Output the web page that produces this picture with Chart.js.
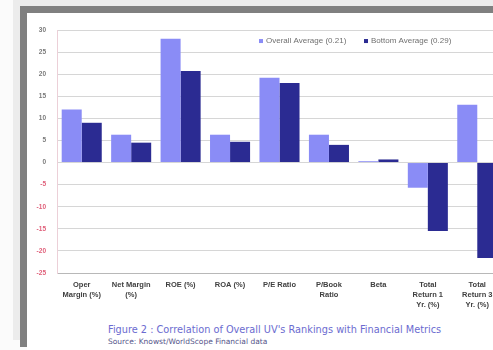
<!DOCTYPE html>
<html>
<head>
<meta charset="utf-8">
<script src="https://cdn.jsdelivr.net/npm/chart.js@4.4.1/dist/chart.umd.min.js"></script>
<style>
  html, body { margin: 0; padding: 0; width: 493px; height: 350px; overflow: hidden; background: #fbfbfb; position: relative; }
  .lg { position: absolute; left: 13px; top: 0; width: 480px; height: 340px; background: #ececec; }
  .dk { position: absolute; left: 20px; top: 6px; width: 473px; height: 341px; background: #808080; }
  .wh { position: absolute; left: 27px; top: 13px; width: 466px; height: 337px; background: #ffffff; }
  #wrap { position: absolute; left: 27px; top: 13px; width: 500px; height: 300px; }
  .cap { position: absolute; left: 108px; font-family: "DejaVu Sans", Verdana, sans-serif; white-space: nowrap; }
  .c1 { top: 324px; color: #6b6bd0; font-size: 9.75px; }
  .c2 { top: 337px; color: #55558a; font-size: 7.5px; }
</style>
</head>
<body>
<div class="lg"></div>
<div class="dk"></div>
<div class="wh"></div>
<div id="wrap"><canvas id="c" width="500" height="300"></canvas></div>
<div class="cap c1">Figure 2 : Correlation of Overall UV's Rankings with Financial Metrics</div>
<div class="cap c2">Source: Knowst/WorldScope Financial data</div>
<script>
const categories = [
  ["Oper", "Margin (%)"],
  ["Net Margin", "(%)"],
  "ROE (%)",
  "ROA (%)",
  "P/E Ratio",
  ["P/Book", "Ratio"],
  "Beta",
  ["Total", "Return 1", "Yr. (%)"],
  ["Total", "Return 3", "Yr. (%)"]
];
const seriesNames = ["Overall Average (0.21)", "Bottom Average (0.29)"];
const overallAvg = [12, 6.3, 28, 6.3, 19.2, 6.3, 0.3, -5.7, 13.1];
const bottomAvg = [9, 4.5, 20.7, 4.7, 18, 4, 0.7, -15.5, -21.6];
const yMin = -25, yMax = 30, yStep = 5;

const lightColor = "#8a8cf6";
const darkColor = "#2b2b92";

const inlineLegend = {
  id: "inlineLegend",
  afterDraw(chart) {
    const ctx = chart.ctx;
    const area = chart.chartArea;
    const y = chart.scales.y.getPixelForValue(27.5);
    const items = chart.data.datasets;
    const starts = [area.left + 202, area.left + 307];
    ctx.save();
    ctx.font = "8px 'Liberation Sans', Arial, sans-serif";
    ctx.textBaseline = "middle";
    items.forEach((ds, i) => {
      const x = starts[i];
      ctx.fillStyle = ds.backgroundColor;
      ctx.fillRect(x, y - 2, 4, 4);
      ctx.fillStyle = "#707070";
      ctx.fillText(ds.label, x + 7, y);
    });
    ctx.restore();
  }
};

new Chart(document.getElementById("c"), {
  type: "bar",
  data: {
    labels: categories,
    datasets: [
      { label: seriesNames[0], data: overallAvg, backgroundColor: lightColor, borderWidth: 0 },
      { label: seriesNames[1], data: bottomAvg, backgroundColor: darkColor, borderWidth: 0 }
    ]
  },
  options: {
    responsive: false,
    animation: false,
    devicePixelRatio: 1,
    layout: { padding: { top: 17, right: 25, bottom: 0, left: 0 } },
    plugins: { legend: { display: false }, tooltip: { enabled: false } },
    datasets: { bar: { categoryPercentage: 0.81, barPercentage: 1.0 } },
    scales: {
      x: {
        grid: { display: false, drawTicks: false },
        border: { display: true, color: "#b8b8b8", dash: [1, 2] },
        ticks: {
          autoSkip: false, maxRotation: 0, minRotation: 0, padding: 7,
          color: "#404040",
          font: { family: "'Liberation Sans', Arial, sans-serif", size: 7.5, weight: "bold", lineHeight: 1.33 }
        },
        afterFit(s) { s.height = 40; }
      },
      y: {
        min: yMin, max: yMax,
        grid: { color: "#d6d6d6", drawTicks: false },
        border: { display: true, color: "#ecd0d8" },
        ticks: {
          stepSize: yStep, padding: 11,
          color: (c) => c.tick && c.tick.value < 0 ? "#e0607a" : "#7a7a7a",
          font: { family: "'Liberation Sans', Arial, sans-serif", size: 6.5, weight: "bold" }
        },
        afterFit(s) { s.width = 30; }
      }
    }
  },
  plugins: [inlineLegend]
});
</script>
</body>
</html>
